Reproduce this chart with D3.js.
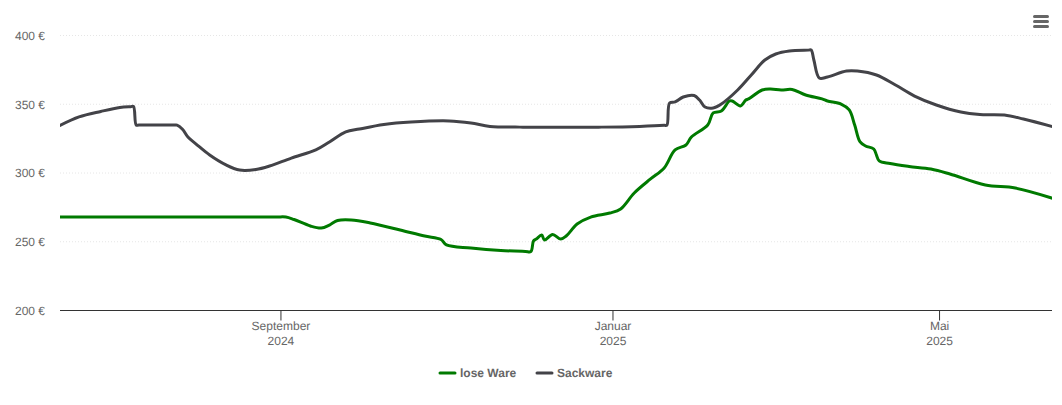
<!DOCTYPE html>
<html lang="de">
<head>
<meta charset="utf-8">
<title>Preisentwicklung</title>
<script src="https://cdn.jsdelivr.net/npm/d3@7"></script>
<style>
  html, body { margin: 0; padding: 0; background: #fff; }
  svg { display: block; font-family: "Liberation Sans", Arial, sans-serif; text-rendering: geometricPrecision; }
  .grid line { stroke: #e6e6e6; stroke-dasharray: 1 2; }
  .y-axis text, .x-axis text { fill: #666; font-size: 12px; }
  .legend text { fill: #666; font-size: 12px; font-weight: bold; }
</style>
</head>
<body>
<svg id="chart" width="1062" height="405"></svg>
<script>
'use strict';

const yTicks = [200, 250, 300, 350, 400];
const xTickDates = ['2024-09-01', '2025-01-01', '2025-05-01'];
const xTickMonths = ['September', 'Januar', 'Mai'];
const xTickYears = ['2024', '2025', '2025'];

const loseDates = [
  '2024-06-12', '2024-06-13', '2024-08-30', '2024-09-03', '2024-09-06', '2024-09-12', '2024-09-16', '2024-09-19', '2024-09-22', '2024-09-27',
  '2024-10-04', '2024-10-15', '2024-10-24', '2024-10-30', '2024-11-01', '2024-11-10', '2024-11-21', '2024-11-30', '2024-12-02',
  '2024-12-03', '2024-12-04', '2024-12-06', '2024-12-07', '2024-12-10', '2024-12-13', '2024-12-15', '2024-12-19',
  '2024-12-24', '2024-12-31', '2025-01-04', '2025-01-09', '2025-01-15', '2025-01-20', '2025-01-24', '2025-01-28',
  '2025-01-30', '2025-02-05', '2025-02-07', '2025-02-10', '2025-02-13', '2025-02-14', '2025-02-17', '2025-02-19',
  '2025-02-20', '2025-02-25', '2025-02-28', '2025-03-04', '2025-03-08', '2025-03-13', '2025-03-19', '2025-03-21',
  '2025-03-26', '2025-03-29', '2025-03-31', '2025-04-02', '2025-04-04', '2025-04-07', '2025-04-08', '2025-04-09',
  '2025-04-13', '2025-04-20', '2025-04-28', '2025-05-05', '2025-05-18', '2025-05-29', '2025-06-12'
];
const loseValues = [
  267.6, 267.6, 267.6, 267.6, 265.8, 261.1, 259.6, 261.8, 265.1, 265.5,
  263.3, 258.2, 253.8, 251.3, 247.3, 245.1, 243.3, 242.6, 242.5,
  250.2, 251.6, 254.5, 250.9, 254.9, 251.6, 253.8, 262.5,
  267.6, 270.5, 273.5, 285.1, 295.3, 303.3, 316.4, 320,
  325.8, 334.5, 343.3, 344.7, 352, 352, 348.4, 352.7,
  353.5, 360, 360.7, 360, 360.4, 356.4, 353.5, 352,
  349.8, 345.5, 334.5, 322.2, 319.3, 317.1, 312.7, 308.4,
  306.5, 304.4, 302.5, 298.9, 290.9, 288.7, 281.1
];

const sackDates = [
  '2024-06-12', '2024-06-19', '2024-06-27', '2024-07-04', '2024-07-08', '2024-07-09', '2024-07-10', '2024-07-11', '2024-07-24', '2024-07-25', '2024-07-27',
  '2024-07-29', '2024-08-01', '2024-08-06', '2024-08-12', '2024-08-17', '2024-08-23', '2024-08-28', '2024-09-05',
  '2024-09-14', '2024-09-19', '2024-09-25', '2024-09-30', '2024-10-09', '2024-10-19', '2024-11-02', '2024-11-10',
  '2024-11-17', '2024-11-28', '2024-12-01', '2024-12-25', '2024-12-28', '2025-01-11', '2025-01-20', '2025-01-21', '2025-01-22', '2025-01-24', '2025-01-27',
  '2025-01-31', '2025-02-02', '2025-02-04', '2025-02-07', '2025-02-10', '2025-02-16', '2025-02-21', '2025-02-26',
  '2025-03-02', '2025-03-07', '2025-03-14', '2025-03-15', '2025-03-16', '2025-03-18', '2025-03-21', '2025-03-28', '2025-04-01',
  '2025-04-08', '2025-04-15', '2025-04-22', '2025-04-30', '2025-05-09', '2025-05-16', '2025-05-25', '2025-06-01',
  '2025-06-12'
];
const sackValues = [
  334.2, 340.4, 344.4, 347.3, 347.9, 348, 334.5, 334.5, 334.5, 334.5, 331.5,
  325.8, 320.7, 312.7, 305.5, 301.8, 302.2, 304.7, 310.5,
  316.4, 322.2, 329.5, 331.6, 334.9, 336.7, 337.5, 336,
  333.5, 333, 333, 333, 333, 333.5, 334.3, 334.5, 350.5, 351.3, 354.9,
  356, 352.7, 347.6, 346.9, 349.8, 360, 370.9, 381.8,
  386.2, 388.4, 389, 389.1, 381.8, 368.7, 369.5, 373.8, 373.8,
  370.9, 363.6, 355.6, 349.1, 344, 342.2, 341.8, 338.9,
  333.2
];

const seriesNames = ['lose Ware', 'Sackware'];
const seriesColors = ['#007a00', '#434348'];

const parseDate = d3.utcParse('%Y-%m-%d');
const plot = { left: 60, right: 1052, top: 35, bottom: 310 };

const x = d3.scaleUtc()
  .domain([parseDate('2024-06-12'), new Date(Date.UTC(2025, 5, 11, 12))])
  .range([plot.left, plot.right]);
const y = d3.scaleLinear().domain([200, 400]).range([plot.bottom, plot.top]);

const svg = d3.select('#chart');

svg.append('defs').append('clipPath').attr('id', 'plot-clip')
  .append('rect')
  .attr('x', plot.left)
  .attr('y', 0)
  .attr('width', plot.right - plot.left)
  .attr('height', plot.bottom);

// dotted grid lines, the 200 line is covered by the x axis
svg.append('g').attr('class', 'grid')
  .selectAll('line')
  .data(yTicks.filter(d => d > 200))
  .join('line')
  .attr('x1', plot.left)
  .attr('x2', plot.right)
  .attr('y1', d => y(d) + 0.5)
  .attr('y2', d => y(d) + 0.5);

const yAxis = svg.append('g').attr('class', 'y-axis')
  .attr('transform', `translate(${plot.left},0)`)
  .call(d3.axisLeft(y).tickValues(yTicks).tickSize(0).tickPadding(15).tickFormat(d => `${d} €`));
yAxis.select('.domain').remove();
yAxis.selectAll('text').attr('font-family', null).attr('dy', '0.36em');

const xAxis = svg.append('g').attr('class', 'x-axis')
  .attr('transform', `translate(0,${plot.bottom + 0.5})`)
  .call(d3.axisBottom(x).tickValues(xTickDates.map(parseDate)).tickSize(10).tickFormat(''));
xAxis.select('.domain').attr('stroke', '#333').attr('d', `M${plot.left},0H${plot.right}`);
xAxis.selectAll('.tick line').attr('stroke', '#333');
xAxis.selectAll('.tick text')
  .attr('dy', 0)
  .each(function (d, i) {
    const label = d3.select(this);
    label.append('tspan').attr('x', 0).attr('y', 19.5).text(xTickMonths[i]);
    label.append('tspan').attr('x', 0).attr('y', 34.5).text(xTickYears[i]);
  });

const line = d3.line()
  .x(d => x(d.date))
  .y(d => y(d.value))
  .curve(d3.curveCatmullRom.alpha(0.5));

const toPoints = (dates, values) => dates.map((d, i) => ({ date: parseDate(d), value: values[i] }));
const seriesPoints = [toPoints(loseDates, loseValues), toPoints(sackDates, sackValues)];

// sackware is drawn last, it sits on top where the lines meet
svg.append('g').attr('clip-path', 'url(#plot-clip)')
  .selectAll('path')
  .data(seriesPoints)
  .join('path')
  .attr('d', line)
  .attr('fill', 'none')
  .attr('stroke', (d, i) => seriesColors[i])
  .attr('stroke-width', 3)
  .attr('stroke-linejoin', 'round')
  .attr('stroke-linecap', 'round');

const legendX = [440, 537];
const legend = svg.append('g').attr('class', 'legend')
  .selectAll('g')
  .data(seriesNames)
  .join('g')
  .attr('transform', (d, i) => `translate(${legendX[i]},373)`);
legend.append('line')
  .attr('x1', 0)
  .attr('x2', 15)
  .attr('stroke', (d, i) => seriesColors[i])
  .attr('stroke-width', 3)
  .attr('stroke-linecap', 'round');
legend.append('text')
  .attr('x', 20)
  .attr('y', 4)
  .text(d => d);

// export menu symbol
svg.append('g')
  .selectAll('line')
  .data([16.5, 21.5, 26.5])
  .join('line')
  .attr('x1', 1034.5)
  .attr('x2', 1047.5)
  .attr('y1', d => d)
  .attr('y2', d => d)
  .attr('stroke', '#666')
  .attr('stroke-width', 3)
  .attr('stroke-linecap', 'round');
</script>
</body>
</html>
